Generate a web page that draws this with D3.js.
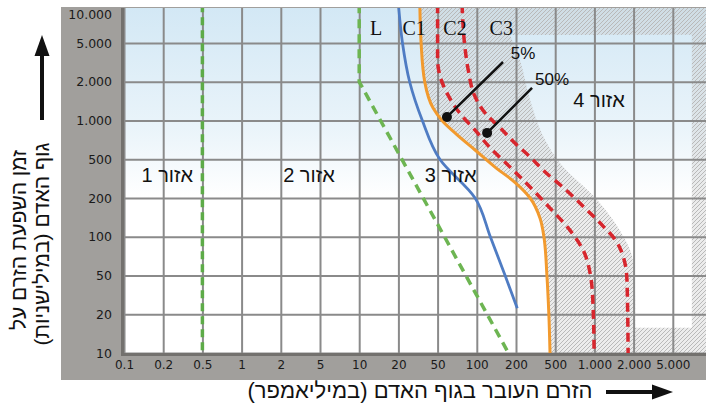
<!DOCTYPE html>
<html>
<head>
<meta charset="utf-8">
<script src="https://cdn.jsdelivr.net/npm/d3@7"></script>
<style>
  body { margin: 0; background: #fff; }
  svg { display: block; }
</style>
</head>
<body>
<script>
// Axis ticks: body current (mA) and exposure time (ms)
const currentTicks = [0.1, 0.2, 0.5, 1, 2, 5, 10, 20, 50, 100, 200, 500, 1000, 2000, 5000, 10000];
const currentLabels = ["0.1", "0.2", "0.5", "1", "2", "5", "10", "20", "50", "100", "200", "500", "1.000", "2.000", "5.000"];
const timeTicks = [10, 20, 50, 100, 200, 500, 1000, 2000, 5000, 10000];
const timeLabels = ["10", "20", "50", "100", "200", "500", "1.000", "2.000", "5.000", "10.000"];

// Curves as [current mA, time ms]
const lineA = [[0.5, 10000], [0.5, 10]];
const lineB = [[10, 10000], [10, 2000], [175, 10]];
const curveL = [[20, 10000], [22, 5000], [26, 2000], [35, 1000], [52, 500], [97, 200], [127, 100], [165, 50], [206, 23]];
const curveC1 = [[33, 10000], [34, 5000], [37, 2000], [45, 1250], [54, 1000], [71, 770], [97, 590], [138, 415],
  [196, 290], [278, 200], [350, 140], [384, 100], [412, 50], [431, 20], [443, 10]];
const curveC2 = [[50, 10000], [50, 3340], [52, 2330], [60, 1580], [74, 1140], [97, 841], [127, 611], [180, 416],
  [278, 259], [443, 167], [651, 112], [818, 79], [927, 52], [972, 28], [995, 10]];
const curveC3 = [[77, 10000], [81, 4570], [86, 2630], [97, 1530], [116, 1140], [151, 877], [196, 668], [278, 521],
  [395, 370], [595, 247], [847, 167], [1165, 121], [1444, 95], [1658, 71], [1778, 45], [1815, 10]];
// outer edge of the hatched zone 4 band
const zone4Edge = [[180, 5780], [219, 3340], [278, 1444], [395, 707], [543, 457], [1050, 193], [1569, 112],
  [1972, 66], [2075, 28], [2075, 15.7]];
const zone4Corner = [7000, 15.7, 5800];

const curveNames = ["L", "C1", "C2", "C3"];
const curveNameX = [13.5, 28.9, 68, 154];
const curveNameY = 5800;

const zoneNames = ["אזור 1", "אזור 2", "אזור 3", "אזור 4"];
const zoneX = [0.22, 3.86, 63, 1087];
const zoneY = [343, 343, 343, 1444];

const pctLabels = ["5%", "50%"];
const pctDot = [[59, 1065], [120, 801]];
const pctEnd = [[159, 3190], [291, 1790]];

const w = 706;
const h = 405;
const plot = { left: 124, top: 8, right: 706, bottom: 353 };
const stepX = 39.2;
const stepY = 38.75;

const heb = "'Liberation Sans', 'DejaVu Sans', sans-serif";

const svg = d3.select("body").append("svg").attr("width", w).attr("height", h);

const defs = svg.append("defs");
const sky = defs.append("linearGradient").attr("id", "sky").attr("x1", 0).attr("y1", 0).attr("x2", 0).attr("y2", 1);
sky.append("stop").attr("offset", "0").attr("stop-color", "#d3e8f5");
sky.append("stop").attr("offset", "0.35").attr("stop-color", "#eaf4fa");
sky.append("stop").attr("offset", "0.55").attr("stop-color", "#ffffff");

const hatch = defs.append("pattern").attr("id", "hatch").attr("width", 4).attr("height", 4)
  .attr("patternUnits", "userSpaceOnUse");
hatch.append("rect").attr("width", 4).attr("height", 4).attr("fill", "rgba(200,200,200,0.35)");
hatch.append("path").attr("d", "M-1,1 l2,-2 M0,4 l4,-4 M3,5 l2,-2")
  .attr("stroke", "#b9b9b9").attr("stroke-width", 1);

defs.append("clipPath").attr("id", "clip").append("rect")
  .attr("x", plot.left).attr("y", plot.top)
  .attr("width", plot.right - plot.left).attr("height", plot.bottom - plot.top);

// Scales: 1-2-5 ticks are evenly spaced, so use a piecewise log scale
const x = d3.scaleLog().domain(currentTicks).range(currentTicks.map((d, i) => plot.left + i * stepX));
const y = d3.scaleLog().domain(timeTicks).range(timeTicks.map((d, i) => plot.bottom - i * stepY));

// gray frame
svg.append("rect").attr("x", 61).attr("y", 7).attr("width", w - 61).attr("height", 373).attr("fill", "#a19f9c");
svg.append("rect").attr("x", plot.left).attr("y", plot.top)
  .attr("width", plot.right - plot.left).attr("height", plot.bottom - plot.top).attr("fill", "url(#sky)");

const area = svg.append("g").attr("clip-path", "url(#clip)");

const smooth = d3.line().x(d => x(d[0])).y(d => y(d[1])).curve(d3.curveMonotoneY);
const straight = d3.line().x(d => x(d[0])).y(d => y(d[1]));

// hatched zone 4
const outer = smooth(curveC1) + `L${x(10000)},${y(10)}L${x(10000)},${y(10000)}Z`;
const hole = smooth(zone4Edge) +
  `L${x(zone4Corner[0])},${y(zone4Corner[1])}L${x(zone4Corner[0])},${y(zone4Corner[2])}Z`;
area.append("path").attr("d", outer + hole).attr("fill", "url(#hatch)").attr("fill-rule", "evenodd");

// grid
area.append("g")
  .attr("transform", `translate(0,${plot.bottom})`)
  .call(d3.axisBottom(x).tickValues(currentTicks).tickSize(-(plot.bottom - plot.top + 10)).tickFormat(""))
  .call(g => g.select(".domain").remove())
  .call(g => g.selectAll("line").attr("stroke", "#8a8a8a").attr("stroke-width", 2));
area.append("g")
  .attr("transform", `translate(${plot.left},0)`)
  .call(d3.axisLeft(y).tickValues(timeTicks).tickSize(-(plot.right - plot.left)).tickFormat(""))
  .call(g => g.select(".domain").remove())
  .call(g => g.selectAll("line").attr("stroke", "#8a8a8a").attr("stroke-width", 2));

// plot edge shadow
svg.append("path")
  .attr("d", `M${plot.left - 1.5},${plot.top}V${plot.bottom + 1.5}H${plot.right}`)
  .attr("fill", "none").attr("stroke", "#73716e").attr("stroke-width", 3);

// curves
area.append("path").attr("d", straight(lineA)).attr("fill", "none")
  .attr("stroke", "#5dab48").attr("stroke-width", 3.5).attr("stroke-dasharray", "8,5");
area.append("path").attr("d", straight(lineB)).attr("fill", "none")
  .attr("stroke", "#6db552").attr("stroke-width", 3.5).attr("stroke-dasharray", "9,6");
area.append("path").attr("d", smooth(curveL)).attr("fill", "none")
  .attr("stroke", "#4f7cc3").attr("stroke-width", 2.8);
area.append("path").attr("d", smooth(curveC1)).attr("fill", "none")
  .attr("stroke", "#f29a2e").attr("stroke-width", 3);
[curveC2, curveC3].forEach(c => {
  area.append("path").attr("d", smooth(c)).attr("fill", "none")
    .attr("stroke", "#d7262d").attr("stroke-width", 3.5).attr("stroke-dasharray", "9,6");
});

// curve names
curveNames.forEach((t, i) => {
  svg.append("text")
    .attr("x", x(curveNameX[i])).attr("y", y(curveNameY))
    .attr("text-anchor", "middle")
    .style("font-family", "'Liberation Serif', 'DejaVu Serif', serif")
    .style("font-size", "20px").attr("fill", "#111")
    .text(t);
});

// 5% / 50% pointers
pctLabels.forEach((t, i) => {
  svg.append("line")
    .attr("x1", x(pctDot[i][0])).attr("y1", y(pctDot[i][1]))
    .attr("x2", x(pctEnd[i][0])).attr("y2", y(pctEnd[i][1]))
    .attr("stroke", "#111").attr("stroke-width", 2.5);
  svg.append("circle")
    .attr("cx", x(pctDot[i][0])).attr("cy", y(pctDot[i][1])).attr("r", 5).attr("fill", "#111");
  svg.append("text")
    .attr("x", x(pctEnd[i][0]) + 20).attr("y", y(pctEnd[i][1]) - 3)
    .attr("text-anchor", "middle")
    .style("font-family", heb).style("font-size", "17px").attr("fill", "#111")
    .text(t);
});

// zone names
zoneNames.forEach((t, i) => {
  svg.append("text")
    .attr("x", x(zoneX[i])).attr("y", y(zoneY[i]))
    .attr("text-anchor", "middle").attr("dominant-baseline", "central")
    .attr("direction", "rtl")
    .style("font-family", heb).style("font-size", "20px").attr("fill", "#111")
    .text(t);
});

// tick labels
svg.append("g")
  .attr("transform", `translate(0,${plot.bottom})`)
  .call(d3.axisBottom(x).tickValues(currentTicks.slice(0, currentLabels.length))
    .tickFormat((d, i) => currentLabels[i]).tickSize(0).tickPadding(7))
  .call(g => g.select(".domain").remove())
  .call(g => g.selectAll("text").style("font-family", "'DejaVu Sans', sans-serif")
    .style("font-size", "12px").attr("fill", "#1a1a1a"));

svg.append("g").selectAll("text")
  .data(timeTicks)
  .join("text")
  .attr("x", 112)
  .attr("y", d => Math.max(y(d), 14))
  .attr("text-anchor", "end").attr("dominant-baseline", "central")
  .style("font-family", "'DejaVu Sans', sans-serif").style("font-size", "12.5px").attr("fill", "#1a1a1a")
  .text((d, i) => timeLabels[i]);

// axis titles
svg.append("text")
  .attr("x", 420).attr("y", 398)
  .attr("text-anchor", "middle").attr("direction", "rtl")
  .style("font-family", heb).style("font-size", "22px").attr("fill", "#111")
  .text("הזרם העובר בגוף האדם (במיליאמפר)");
svg.append("path").attr("d", "M606,392H656").attr("stroke", "#111").attr("stroke-width", 4);
svg.append("path").attr("d", "M673,392L652,384.5V399.5Z").attr("fill", "#111");

const yTitle = ["זמן השפעת הזרם על", "גוף האדם (במילישניות)"];
const yTitleX = [18, 41];
const yTitleY = [240, 244];
yTitle.forEach((t, i) => {
  svg.append("text")
    .attr("transform", `translate(${yTitleX[i]},${yTitleY[i]}) rotate(-90)`)
    .attr("text-anchor", "middle").attr("dominant-baseline", "central").attr("direction", "rtl")
    .style("font-family", heb).style("font-size", "21px").attr("fill", "#111")
    .text(t);
});
svg.append("path").attr("d", "M42,120V54").attr("stroke", "#111").attr("stroke-width", 4);
svg.append("path").attr("d", "M42,35L34.5,56H49.5Z").attr("fill", "#111");
</script>
</body>
</html>
